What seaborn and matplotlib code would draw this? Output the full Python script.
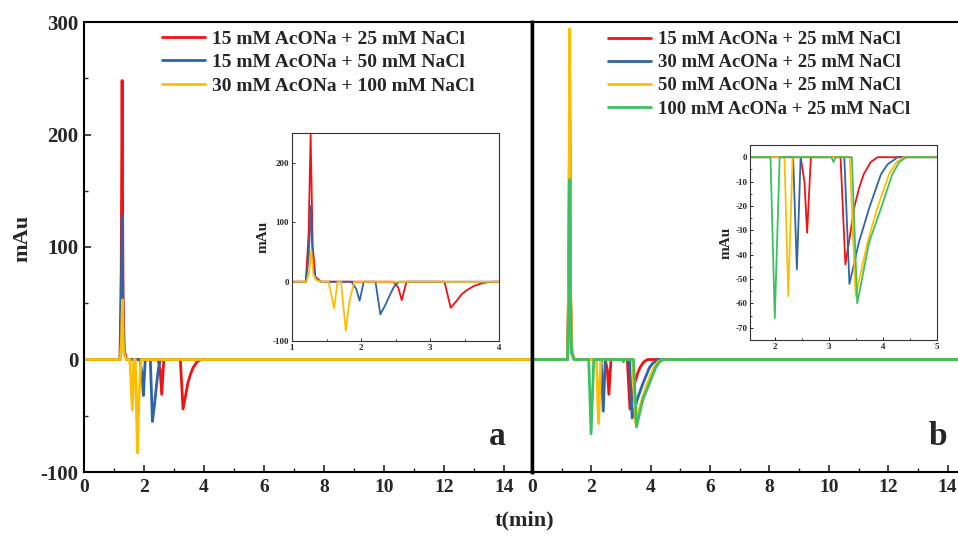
import numpy as np
import pandas as pd
import matplotlib
matplotlib.use('Agg')
import matplotlib.pyplot as plt
import seaborn as sns
from matplotlib.ticker import MultipleLocator

# ---- datos (t en min, señal en mAu) ----
# panel a
t_red = [0, 1.20, 1.24, 1.27, 1.30, 1.34, 1.42, 2.47, 2.54, 2.59, 2.66, 3.21, 3.30, 3.38, 3.46, 3.55, 3.64, 3.77, 3.90, 15]
y_red = [0, 0, 80, 248, 60, 8, 0, 0, -10, -31, 0, 0, -44, -33, -21, -13, -7, -2, 0, 0]

t_blue_a = [0, 1.20, 1.24, 1.275, 1.30, 1.34, 1.42, 1.86, 1.93, 1.98, 2.04, 2.21, 2.28, 2.35, 2.42, 2.48, 2.55, 15]
y_blue_a = [0, 0, 40, 128, 30, 5, 0, 0, -12, -32, 0, 0, -55, -40, -22, -8, 0, 0]

t_yel_a = [0, 1.21, 1.25, 1.28, 1.31, 1.35, 1.42, 1.53, 1.61, 1.66, 1.71, 1.78, 1.83, 1.90, 15]
y_yel_a = [0, 0, 18, 53, 12, 3, 0, 0, -45, 0, 0, -83, -35, 0, 0]

# panel b
t_blue_b = [0, 1.20, 1.24, 1.27, 1.30, 1.34, 1.42, 2.33, 2.40, 2.47, 3.28, 3.375, 3.55, 3.74, 3.96, 4.08, 4.27, 15]
y_blue_b = [0, 0, 70, 210, 50, 6, 0, 0, -46, 0, 0, -52, -35, -21, -7, -3, 0, 0]

t_yel_b = [0, 1.20, 1.24, 1.27, 1.30, 1.34, 1.42, 2.17, 2.24, 2.32, 3.38, 3.49, 3.71, 3.89, 4.11, 4.25, 4.39, 15]
y_yel_b = [0, 0, 90, 294, 60, 8, 0, 0, -57, 0, 0, -57, -35, -21, -7, -2, 0, 0]

t_grn_b = [0, 1.20, 1.24, 1.27, 1.30, 1.34, 1.42, 1.91, 1.99, 2.08, 3.04, 3.08, 3.12, 3.42, 3.52, 3.74, 3.96, 4.17, 4.30, 4.43, 15]
y_grn_b = [0, 0, 50, 160, 35, 5, 0, 0, -66, 0, 0, -2, 0, 0, -60, -35, -21, -7, -2, 0, 0]

labels_a = ['15 mM AcONa + 25 mM NaCl', '15 mM AcONa + 50 mM NaCl', '30 mM AcONa + 100 mM NaCl']
labels_b = ['15 mM AcONa + 25 mM NaCl', '30 mM AcONa + 25 mM NaCl',
            '50 mM AcONa + 25 mM NaCl', '100 mM AcONa + 25 mM NaCl']

rojo, azul, amarillo, verde = '#f21212', '#2e65a6', '#ffbf00', '#3cc062'

series_a = [(t_red, y_red, rojo), (t_blue_a, y_blue_a, azul), (t_yel_a, y_yel_a, amarillo)]
series_b = [(t_red, y_red, rojo), (t_blue_b, y_blue_b, azul),
            (t_yel_b, y_yel_b, amarillo), (t_grn_b, y_grn_b, verde)]

sns.set_style('ticks')
plt.rcParams['font.family'] = ['Liberation Serif', 'DejaVu Serif']
plt.rcParams['font.weight'] = 'bold'
plt.rcParams['axes.unicode_minus'] = False
plt.rcParams['xtick.direction'] = 'in'
plt.rcParams['ytick.direction'] = 'in'

fig = plt.figure(figsize=(9.58, 5.39), dpi=100)
y0, h = 1 - 472/539, 450/539
axA = fig.add_axes([84/958, y0, 448/958, h])
axB = fig.add_axes([532/958, y0, 426/958, h])

def dibujar(ax, series, labels, lw):
    for (t, y, c), lab in zip(series, labels):
        sns.lineplot(x=t, y=y, color=c, lw=lw, sort=False, ax=ax, label=lab, legend=False)

dibujar(axA, series_a, labels_a, 2.0)
dibujar(axB, series_b, labels_b, 2.0)

for ax in (axA, axB):
    ax.set_ylim(-100, 300)
    ax.xaxis.set_major_locator(MultipleLocator(2))
    ax.xaxis.set_minor_locator(MultipleLocator(1))
    ax.tick_params(axis='x', which='major', length=5, width=1.2, labelsize=14, pad=5)
    ax.tick_params(axis='x', which='minor', length=3, width=1)
    for s in ax.spines.values():
        s.set_linewidth(1.5)
        s.set_color('black')
    ax.set_xlabel('')
    ax.set_ylabel('')
    for lab in ax.get_xticklabels():
        lab.set_fontweight('bold')

axA.set_xlim(0, 14.93)
axB.set_xlim(0, 14.35)
axA.yaxis.set_major_locator(MultipleLocator(100))
axA.yaxis.set_minor_locator(MultipleLocator(50))
axA.tick_params(axis='y', which='major', length=5, width=1.2, labelsize=15, pad=4)
axA.tick_params(axis='y', which='minor', length=3, width=1)
axA.spines['right'].set_linewidth(2.5)
axB.spines['left'].set_linewidth(2.5)
axB.spines['right'].set_visible(False)
axB.tick_params(axis='y', which='both', left=False, labelleft=False)

axA.legend(loc='upper left', bbox_to_anchor=(0.174, 0.982), frameon=False, borderpad=0,
           borderaxespad=0, handlelength=2.2, handletextpad=0.35, labelspacing=0.3,
           prop={'family': 'Liberation Serif', 'weight': 'bold', 'size': 14})
axB.legend(loc='upper left', bbox_to_anchor=(0.178, 0.98), frameon=False, borderpad=0,
           borderaxespad=0, handlelength=2.3, handletextpad=0.35, labelspacing=0.32,
           prop={'family': 'Liberation Serif', 'weight': 'bold', 'size': 13.5})

axA.text(0.922, 0.078, 'a', transform=axA.transAxes, fontsize=24, fontweight='bold',
         ha='center', va='center')
axB.text(0.953, 0.078, 'b', transform=axB.transAxes, fontsize=24, fontweight='bold',
         ha='center', va='center')

fig.text(22/958, 1 - 238/539, 'mAu', rotation=90, fontsize=16, fontweight='bold',
         ha='center', va='center')
fig.text(524/958, 1 - 520/539, 't(min)', fontsize=16, fontweight='bold',
         ha='center', va='center')

# ---- insets ----
insA = fig.add_axes([292/958, 1 - 341/539, 207/958, 207.5/539])
insB = fig.add_axes([750/958, 1 - 340/539, 187/958, 195/539])
dibujar(insA, series_a, labels_a, 1.3)
dibujar(insB, series_b, labels_b, 1.3)

insA.set_xlim(1, 4)
insA.set_ylim(-100, 250)
insA.xaxis.set_major_locator(MultipleLocator(1))
insA.xaxis.set_minor_locator(MultipleLocator(0.5))
insA.yaxis.set_major_locator(MultipleLocator(100))

insB.set_xlim(1.53, 5.0)
insB.set_ylim(-75, 5)
insB.xaxis.set_major_locator(MultipleLocator(1))
insB.xaxis.set_minor_locator(MultipleLocator(0.5))
insB.yaxis.set_major_locator(MultipleLocator(10))
insB.yaxis.set_minor_locator(MultipleLocator(5))

for ins in (insA, insB):
    ins.tick_params(which='major', length=2.5, width=0.7, labelsize=6.5, pad=2)
    ins.tick_params(which='minor', length=1.5, width=0.6)
    for s in ins.spines.values():
        s.set_linewidth(0.8)
        s.set_color('#333333')
    ins.set_xlabel('')
    ins.set_ylabel('mAu', fontsize=11, fontweight='bold', labelpad=2)
    for lab in ins.get_xticklabels() + ins.get_yticklabels():
        lab.set_fontweight('bold')

fig.savefig('out.png', dpi=100)
